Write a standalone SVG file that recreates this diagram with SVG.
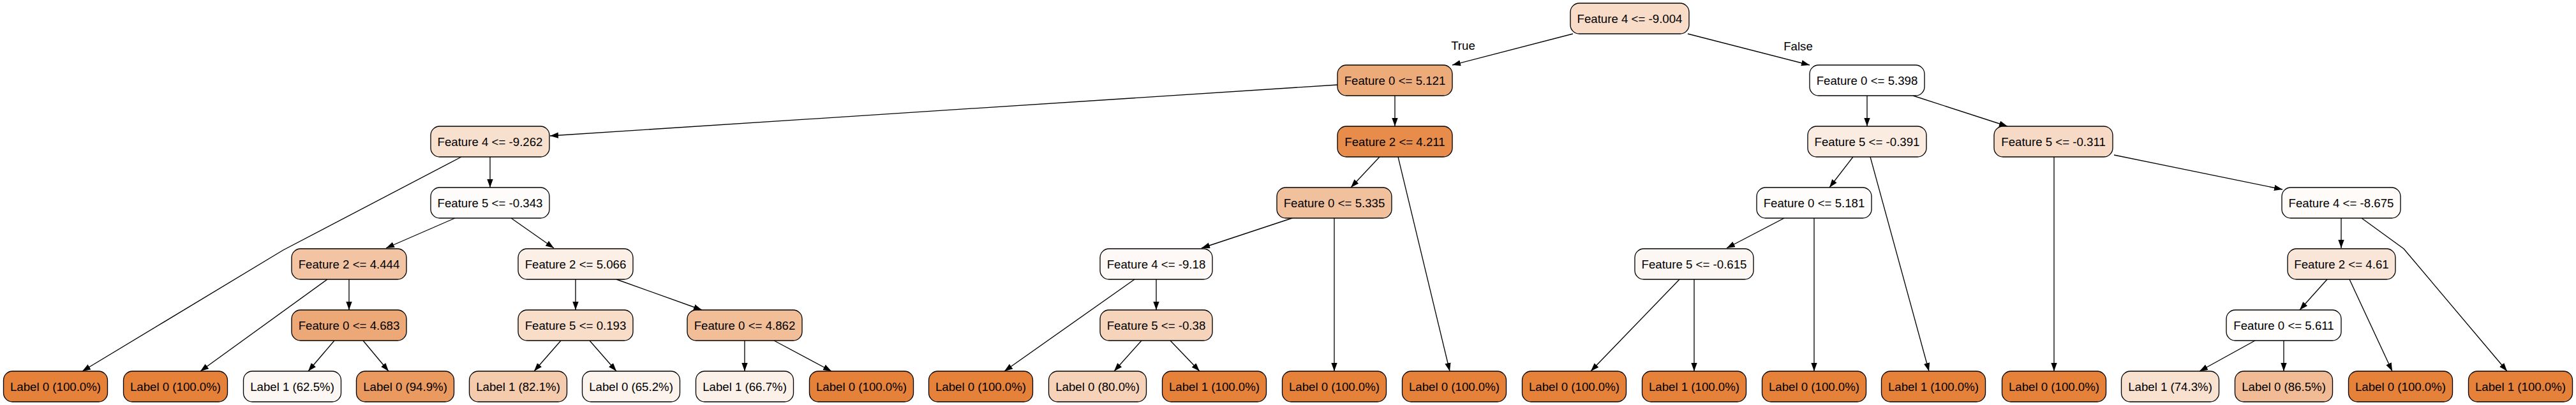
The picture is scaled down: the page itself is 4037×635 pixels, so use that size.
<svg xmlns="http://www.w3.org/2000/svg" width="4037" height="635" viewBox="0 0 4037 635">
<style>
.n rect{stroke:#000;stroke-width:1.33}
.n text,.lbl{font-family:"Liberation Sans",Arial,Helvetica,sans-serif;font-size:18.67px;fill:#000;text-anchor:middle}
#edges path{fill:none;stroke:#000;stroke-width:1.33;marker-end:url(#ah)}
</style>
<defs>
<marker id="ah" markerUnits="userSpaceOnUse" markerWidth="14" markerHeight="10" refX="13" refY="4.67" orient="auto">
<path d="M0,0 L13,4.67 L0,9.33 z" fill="#000"/>
</marker>
</defs>
<rect width="4037" height="635" fill="#fff"/>
<g id="edges">
<path d="M2465,53 L2276,102"/>
<path d="M2645,53 L2836,102"/>
<path d="M2096,133 L862,213"/>
<path d="M2186,150 L2186,198"/>
<path d="M2926,150 L2926,198"/>
<path d="M2998,150 L3146,198"/>
<path d="M723,246 L444,392 L129,582"/>
<path d="M768,246 L768,294"/>
<path d="M713,342 L605,389"/>
<path d="M801,342 L868,389"/>
<path d="M513,438 L314,582"/>
<path d="M547,438 L547,486"/>
<path d="M524,534 L483,582"/>
<path d="M569,534 L609,582"/>
<path d="M902,438 L902,486"/>
<path d="M966,438 L1100,486"/>
<path d="M879,534 L837,582"/>
<path d="M924,534 L966,582"/>
<path d="M1167,534 L1167,582"/>
<path d="M1213,534 L1303,582"/>
<path d="M2162,246 L2117,294"/>
<path d="M2191,246 L2272,582"/>
<path d="M2025,342 L1883,389"/>
<path d="M2091,342 L2091,582"/>
<path d="M1778,438 L1574,582"/>
<path d="M1812,438 L1812,486"/>
<path d="M1789,534 L1746,582"/>
<path d="M1834,534 L1880,582"/>
<path d="M2904,246 L2867,294"/>
<path d="M2931,246 L3023,582"/>
<path d="M2796,342 L2706,389"/>
<path d="M2843,342 L2843,582"/>
<path d="M2632,438 L2493,582"/>
<path d="M2655,438 L2655,582"/>
<path d="M3219,246 L3219,582"/>
<path d="M3313,243 L3577,297"/>
<path d="M3669,342 L3669,389"/>
<path d="M3701,342 L3767,390 L3929,582"/>
<path d="M3647,438 L3604,486"/>
<path d="M3682,438 L3749,582"/>
<path d="M3534,534 L3447,582"/>
<path d="M3579,534 L3579,582"/>
<text class="lbl" x="2293" y="78">True</text>
<text class="lbl" x="2818" y="79">False</text>
</g>
<g id="n0" class="n"><rect x="2461" y="5" width="186" height="48" rx="14" fill="#f8dcc8"/><text x="2554" y="35.5">Feature 4 &lt;= -9.004</text></g>
<g id="n1" class="n"><rect x="2096" y="102" width="180" height="48" rx="14" fill="#eeab7a"/><text x="2186" y="132.5">Feature 0 &lt;= 5.121</text></g>
<g id="n2" class="n"><rect x="2836" y="102" width="180" height="48" rx="14" fill="#ffffff"/><text x="2926" y="132.5">Feature 0 &lt;= 5.398</text></g>
<g id="n3" class="n"><rect x="675" y="198" width="186" height="48" rx="14" fill="#f8e0ce"/><text x="768" y="228.5">Feature 4 &lt;= -9.262</text></g>
<g id="n4" class="n"><rect x="2096" y="198" width="180" height="48" rx="14" fill="#e78c4a"/><text x="2186" y="228.5">Feature 2 &lt;= 4.211</text></g>
<g id="n5" class="n"><rect x="2833" y="198" width="186" height="48" rx="14" fill="#fbece2"/><text x="2926" y="228.5">Feature 5 &lt;= -0.391</text></g>
<g id="n6" class="n"><rect x="3125" y="198" width="186" height="48" rx="14" fill="#f7dac5"/><text x="3218" y="228.5">Feature 5 &lt;= -0.311</text></g>
<g id="n7" class="n"><rect x="675" y="294" width="186" height="48" rx="14" fill="#fefcfa"/><text x="768" y="324.5">Feature 5 &lt;= -0.343</text></g>
<g id="n8" class="n"><rect x="2001" y="294" width="180" height="48" rx="14" fill="#f1c19d"/><text x="2091" y="324.5">Feature 0 &lt;= 5.335</text></g>
<g id="n9" class="n"><rect x="2753" y="294" width="180" height="48" rx="14" fill="#fffdfb"/><text x="2843" y="324.5">Feature 0 &lt;= 5.181</text></g>
<g id="n10" class="n"><rect x="3576" y="294" width="186" height="48" rx="14" fill="#fefbf8"/><text x="3669" y="324.5">Feature 4 &lt;= -8.675</text></g>
<g id="n11" class="n"><rect x="457" y="390" width="180" height="48" rx="14" fill="#f2c4a3"/><text x="547" y="420.5">Feature 2 &lt;= 4.444</text></g>
<g id="n12" class="n"><rect x="812" y="390" width="180" height="48" rx="14" fill="#fcefe6"/><text x="902" y="420.5">Feature 2 &lt;= 5.066</text></g>
<g id="n13" class="n"><rect x="1724" y="390" width="176" height="48" rx="14" fill="#fef9f6"/><text x="1812" y="420.5">Feature 4 &lt;= -9.18</text></g>
<g id="n14" class="n"><rect x="2562" y="390" width="186" height="48" rx="14" fill="#fdf7f3"/><text x="2655" y="420.5">Feature 5 &lt;= -0.615</text></g>
<g id="n15" class="n"><rect x="3585" y="390" width="169" height="48" rx="14" fill="#fae6d8"/><text x="3669.5" y="420.5">Feature 2 &lt;= 4.61</text></g>
<g id="n16" class="n"><rect x="457" y="486" width="180" height="48" rx="14" fill="#eda877"/><text x="547" y="516.5">Feature 0 &lt;= 4.683</text></g>
<g id="n17" class="n"><rect x="812" y="486" width="180" height="48" rx="14" fill="#f8ddc9"/><text x="902" y="516.5">Feature 5 &lt;= 0.193</text></g>
<g id="n18" class="n"><rect x="1077" y="486" width="180" height="48" rx="14" fill="#f1be98"/><text x="1167" y="516.5">Feature 0 &lt;= 4.862</text></g>
<g id="n19" class="n"><rect x="1724" y="486" width="176" height="48" rx="14" fill="#f6d4bc"/><text x="1812" y="516.5">Feature 5 &lt;= -0.38</text></g>
<g id="n20" class="n"><rect x="3489" y="486" width="180" height="48" rx="14" fill="#fffefd"/><text x="3579" y="516.5">Feature 0 &lt;= 5.611</text></g>
<g id="l1" class="n"><rect x="5.5" y="582" width="163" height="48" rx="14" fill="#e58139"/><text x="87" y="612.5">Label 0 (100.0%)</text></g>
<g id="l2" class="n"><rect x="193.5" y="582" width="163" height="48" rx="14" fill="#e58139"/><text x="275" y="612.5">Label 0 (100.0%)</text></g>
<g id="l3" class="n"><rect x="381.5" y="582" width="153" height="48" rx="14" fill="#fdf7f3"/><text x="458" y="612.5">Label 1 (62.5%)</text></g>
<g id="l4" class="n"><rect x="558.5" y="582" width="153" height="48" rx="14" fill="#ea995f"/><text x="635" y="612.5">Label 0 (94.9%)</text></g>
<g id="l5" class="n"><rect x="735.5" y="582" width="153" height="48" rx="14" fill="#f4cbad"/><text x="812" y="612.5">Label 1 (82.1%)</text></g>
<g id="l6" class="n"><rect x="912.5" y="582" width="153" height="48" rx="14" fill="#fdf3ed"/><text x="989" y="612.5">Label 0 (65.2%)</text></g>
<g id="l7" class="n"><rect x="1090.5" y="582" width="153" height="48" rx="14" fill="#fcf1e9"/><text x="1167" y="612.5">Label 1 (66.7%)</text></g>
<g id="l8" class="n"><rect x="1268.5" y="582" width="163" height="48" rx="14" fill="#e58139"/><text x="1350" y="612.5">Label 0 (100.0%)</text></g>
<g id="l9" class="n"><rect x="1455.5" y="582" width="163" height="48" rx="14" fill="#e58139"/><text x="1537" y="612.5">Label 0 (100.0%)</text></g>
<g id="l10" class="n"><rect x="1643.5" y="582" width="153" height="48" rx="14" fill="#f6d2b8"/><text x="1720" y="612.5">Label 0 (80.0%)</text></g>
<g id="l11" class="n"><rect x="1821.5" y="582" width="163" height="48" rx="14" fill="#e58139"/><text x="1903" y="612.5">Label 1 (100.0%)</text></g>
<g id="l12" class="n"><rect x="2009.5" y="582" width="163" height="48" rx="14" fill="#e58139"/><text x="2091" y="612.5">Label 0 (100.0%)</text></g>
<g id="l13" class="n"><rect x="2197.5" y="582" width="163" height="48" rx="14" fill="#e58139"/><text x="2279" y="612.5">Label 0 (100.0%)</text></g>
<g id="l14" class="n"><rect x="2385.5" y="582" width="163" height="48" rx="14" fill="#e58139"/><text x="2467" y="612.5">Label 0 (100.0%)</text></g>
<g id="l15" class="n"><rect x="2573.5" y="582" width="163" height="48" rx="14" fill="#e58139"/><text x="2655" y="612.5">Label 1 (100.0%)</text></g>
<g id="l16" class="n"><rect x="2761.5" y="582" width="163" height="48" rx="14" fill="#e58139"/><text x="2843" y="612.5">Label 0 (100.0%)</text></g>
<g id="l17" class="n"><rect x="2948.5" y="582" width="163" height="48" rx="14" fill="#e58139"/><text x="3030" y="612.5">Label 1 (100.0%)</text></g>
<g id="l18" class="n"><rect x="3137.5" y="582" width="163" height="48" rx="14" fill="#e58139"/><text x="3219" y="612.5">Label 0 (100.0%)</text></g>
<g id="l19" class="n"><rect x="3324.5" y="582" width="153" height="48" rx="14" fill="#f9e1d0"/><text x="3401" y="612.5">Label 1 (74.3%)</text></g>
<g id="l20" class="n"><rect x="3502.5" y="582" width="153" height="48" rx="14" fill="#f1bc95"/><text x="3579" y="612.5">Label 0 (86.5%)</text></g>
<g id="l21" class="n"><rect x="3680.5" y="582" width="163" height="48" rx="14" fill="#e58139"/><text x="3762" y="612.5">Label 0 (100.0%)</text></g>
<g id="l22" class="n"><rect x="3868.5" y="582" width="163" height="48" rx="14" fill="#e58139"/><text x="3950" y="612.5">Label 1 (100.0%)</text></g>
</svg>
